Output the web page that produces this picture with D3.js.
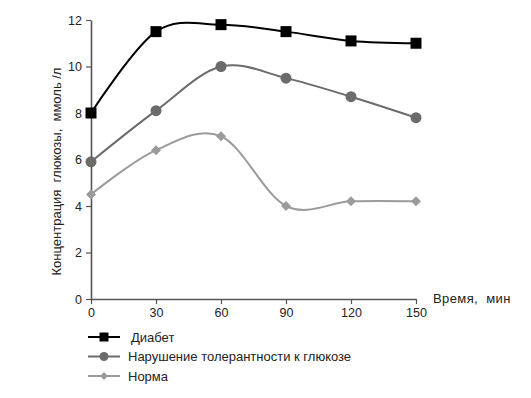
<!DOCTYPE html>
<html>
<head>
<meta charset="utf-8">
<script src="https://cdn.jsdelivr.net/npm/d3@7"></script>
<style>
	body { margin: 0; background: #fff; }
	text { font-family: "Liberation Sans", Arial, sans-serif; }
</style>
</head>
<body>
<script>
const times = [0, 30, 60, 90, 120, 150];
const diabetes = [8.0, 11.5, 11.8, 11.5, 11.1, 11.0];
const impaired = [5.9, 8.1, 10.0, 9.5, 8.7, 7.8];
const normal = [4.5, 6.4, 7.0, 4.0, 4.2, 4.2];
const yTicks = [0, 2, 4, 6, 8, 10, 12];
const seriesNames = ["Диабет", "Нарушение толерантности к глюкозе", "Норма"];

const W = 531, H = 398;

const svg = d3.select('body').append('svg')
	.attr('width', W)
	.attr('height', H);

const x = d3.scaleLinear().domain([0, 150]).range([91, 416]);
const y = d3.scaleLinear().domain([0, 12]).range([299, 20]);

const axisColor = "#555";

// axes
const gx = svg.append('g')
	.attr('transform', `translate(0,${y(0)})`)
	.call(d3.axisBottom(x).tickValues(times).tickSize(5).tickSizeOuter(0).tickPadding(4));

const gy = svg.append('g')
	.attr('transform', `translate(${x(0)},0)`)
	.call(d3.axisLeft(y).tickValues(yTicks).tickSize(5).tickSizeOuter(0).tickPadding(4));

[gx, gy].forEach(g => {
	g.select('.domain').attr('stroke', axisColor).attr('stroke-width', 1.6);
	g.selectAll('.tick line').attr('stroke', axisColor).attr('stroke-width', 1.2);
	g.selectAll('.tick text')
		.attr('fill', '#222')
		.style('font-size', '12.5px')
		.style('font-family', '"Liberation Sans", Arial, sans-serif');
});

svg.append('text')
	.attr('transform', `translate(61,${(y(0) + y(12)) / 2 + 12}) rotate(-90)`)
	.attr('text-anchor', 'middle')
	.attr('fill', '#222')
	.style('font-size', '13px')
	.style('white-space', 'pre')
	.text("Концентрация  глюкозы,  ммоль /л");

svg.append('text')
	.attr('x', 433)
	.attr('y', 303)
	.attr('fill', '#222')
	.style('font-size', '13px')
	.style('letter-spacing', '0.4px')
	.style('white-space', 'pre')
	.text("Время,  мин");

const series = [
	{ name: seriesNames[0], values: diabetes, color: "#000", width: 2, marker: 'square', size: 11 },
	{ name: seriesNames[1], values: impaired, color: "#6b6b6b", width: 2, marker: 'circle', size: 5.5 },
	{ name: seriesNames[2], values: normal, color: "#9b9b9b", width: 2, marker: 'diamond', size: 5 }
];

const line = d3.line()
	.x(d => x(d[0]))
	.y(d => y(d[1]))
	.curve(d3.curveCatmullRom.alpha(0));

function marker(g, kind, size, color) {
	if (kind === 'square')
		g.append('rect')
			.attr('x', -size / 2).attr('y', -size / 2)
			.attr('width', size).attr('height', size)
			.attr('fill', color);
	else if (kind === 'circle')
		g.append('circle').attr('r', size).attr('fill', color);
	else
		g.append('path')
			.attr('d', `M0,${-size}L${size},0L0,${size}L${-size},0Z`)
			.attr('fill', color);
}

series.slice().reverse().forEach(s => {
	const pts = times.map((t, i) => [t, s.values[i]]);

	svg.append('path')
		.attr('d', line(pts))
		.attr('fill', 'none')
		.attr('stroke', s.color)
		.attr('stroke-width', s.width);

	pts.forEach(p => {
		const g = svg.append('g').attr('transform', `translate(${x(p[0])},${y(p[1])})`);
		marker(g, s.marker, s.size, s.color);
	});
});

// legend
const legend = svg.append('g');
series.forEach((s, i) => {
	const ly = 337 + i * 19.5;
	legend.append('line')
		.attr('x1', 88).attr('x2', 120)
		.attr('y1', ly).attr('y2', ly)
		.attr('stroke', s.color)
		.attr('stroke-width', s.width);
	const g = legend.append('g').attr('transform', `translate(104,${ly})`);
	marker(g, s.marker, s.marker === 'square' ? 9 : s.size - 1, s.color);
	legend.append('text')
		.attr('x', i === 0 ? 131 : 128)
		.attr('y', ly + 4.5)
		.attr('fill', '#222')
		.style('font-size', '13px')
		.text(s.name);
});
</script>
</body>
</html>
